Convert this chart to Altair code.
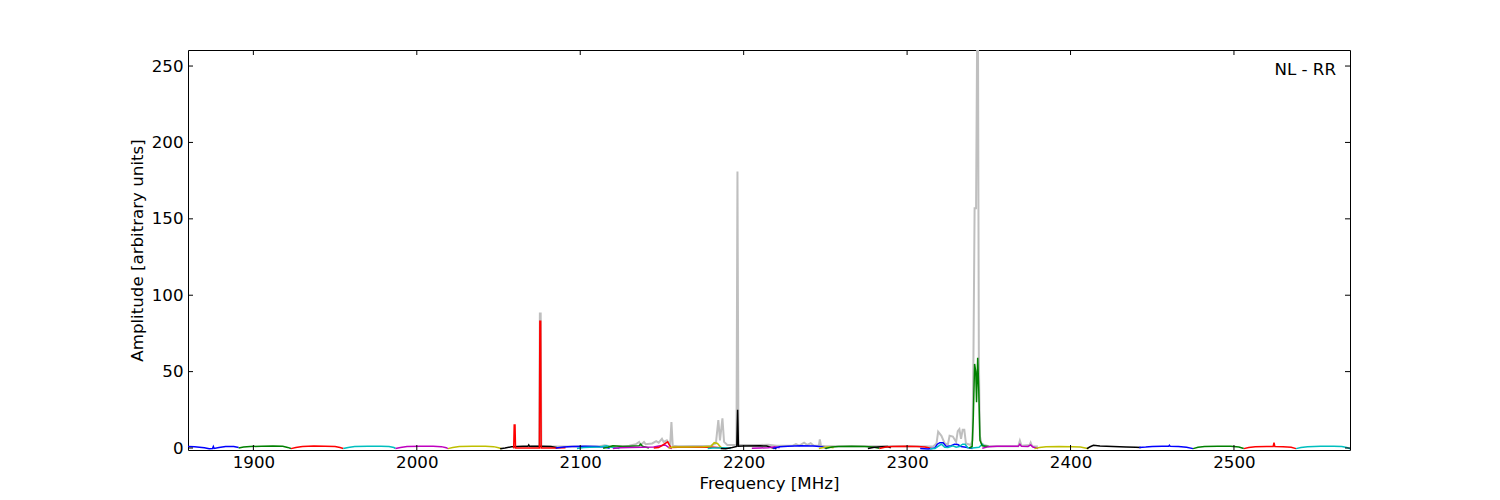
import altair as alt
import pandas as pd

# ---------------- data ----------------
# each sub-band: frequencies [MHz] and amplitudes [arbitrary units]
f_b1 = [1860, 1864, 1870, 1873, 1875, 1875.5, 1876, 1879, 1883, 1888, 1891]
a_b1 = [1.0, 0.8, 0.1, -0.4, -0.3, 1.0, -0.3, 0.3, 1.0, 1.0, 0.3]
f_g1 = [1891, 1894, 1898, 1905, 1912, 1918, 1921, 1923]
a_g1 = [0.0, 0.6, 1.0, 1.2, 1.3, 1.2, 0.4, -0.3]
f_r1 = [1923, 1926, 1930, 1937, 1944, 1950, 1953, 1955]
a_r1 = [-0.4, 0.3, 1.0, 1.3, 1.2, 1.0, 0.3, -0.3]
f_c1 = [1955, 1958, 1962, 1970, 1978, 1983, 1986, 1987]
a_c1 = [-0.3, 0.4, 1.0, 1.1, 1.1, 1.0, 0.3, -0.3]
f_m1 = [1987, 1990, 1994, 2002, 2010, 2015, 2018, 2019]
a_m1 = [-0.3, 0.4, 1.0, 1.2, 1.1, 0.9, 0.2, -0.4]
f_y1 = [2019, 2022, 2026, 2034, 2042, 2047, 2050, 2052]
a_y1 = [-0.4, 0.3, 1.0, 1.1, 1.1, 0.9, 0.2, -0.5]
f_k1 = [2051, 2054, 2058, 2065, 2068, 2068.5, 2069, 2075, 2082, 2086]
a_k1 = [-0.5, 0.0, 0.8, 1.1, 1.1, 2.0, 1.1, 1.2, 1.0, 0.2]
f_r2 = [2059, 2059.3, 2059.6, 2060.1, 2060.4, 2070, 2075, 2075.3, 2075.8, 2076.1, 2085, 2091]
a_r2 = [0.0, 0.2, 15.0, 15.0, 0.0, 0.0, 0.0, 83.0, 83.0, 0.0, 0.0, 0.1]
f_b2 = [2085, 2090, 2095, 2103, 2110, 2115, 2118]
a_b2 = [0.0, 0.7, 1.0, 1.1, 1.0, 0.6, -0.2]
f_c2 = [2098, 2102, 2106, 2112, 2116, 2120, 2124]
a_c2 = [-0.3, 0.3, 0.5, 0.6, 1.5, 0.4, -0.3]
f_g2 = [2114, 2117, 2120, 2126, 2130, 2136, 2137, 2138, 2142]
a_g2 = [-0.2, 0.5, 1.5, 1.0, 1.2, 1.5, 2.5, 1.2, 0.0]
f_m2 = [2120, 2124, 2130, 2138, 2145, 2149, 2152, 2154, 2156]
a_m2 = [-0.3, 0.2, 0.4, 0.5, 0.6, 1.5, 2.0, 0.5, -0.3]
f_r3 = [2145, 2148, 2150, 2152, 2153.5, 2154.5, 2155.5, 2160, 2170, 2180, 2186]
a_r3 = [0.0, 0.3, 1.5, 3.0, 4.0, 2.0, 0.3, 0.5, 0.5, 0.6, 0.2]
f_y2 = [2154, 2157, 2165, 2175, 2180, 2182, 2184, 2186, 2188]
a_y2 = [0.0, 0.6, 0.7, 0.8, 1.2, 3.5, 3.0, 0.5, -0.3]
f_c3 = [2178, 2181, 2185, 2189, 2192]
a_c3 = [-0.3, 0.0, 0.0, 0.2, -0.3]
f_k2 = [2186, 2189, 2193, 2195.8, 2196.3, 2196.8, 2200, 2210, 2214, 2217, 2220]
a_k2 = [-0.3, -0.5, 0.3, 1.0, 25.0, 1.2, 1.3, 1.4, 1.3, 0.3, -0.5]
f_m3 = [2205, 2210, 2215, 2219, 2222]
a_m3 = [-0.2, 0.0, 0.2, 0.8, 0.2]
f_b3 = [2218, 2222, 2227, 2235, 2243, 2248, 2251]
a_b3 = [-0.3, 0.8, 1.2, 1.5, 1.3, 0.8, -0.3]
f_y3 = [2246, 2249, 2252, 2255]
a_y3 = [-0.3, 0.3, 0.6, 0.2]
f_g3 = [2250, 2254, 2258, 2266, 2274, 2279, 2283]
a_g3 = [-0.3, 0.7, 1.0, 1.1, 1.0, 0.7, -0.2]
f_k3 = [2276, 2280, 2284, 2288, 2290]
a_k3 = [-0.3, 0.5, 0.8, 1.0, 0.2]
f_r4 = [2283, 2287, 2291, 2299, 2306, 2311, 2315]
a_r4 = [-0.3, 0.6, 1.0, 1.1, 1.0, 0.7, -0.3]
f_b4 = [2308, 2313, 2317, 2318.5, 2320, 2322, 2324, 2327, 2329, 2331, 2333, 2336, 2340]
a_b4 = [-0.3, -0.6, 0.0, 2.5, 3.5, 3.5, 1.0, 1.5, 2.5, 2.3, 1.0, 0.5, -0.3]
f_c4 = [2314, 2317, 2319, 2321, 2323, 2325, 2328, 2330, 2332, 2334, 2335.5, 2337, 2340, 2344, 2346, 2348]
a_c4 = [-0.5, -0.3, 1.0, 2.5, 0.5, 0.3, 1.5, 0.5, 1.0, 2.5, 2.5, 0.3, 0.0, 0.5, 2.5, 0.3]
f_g4 = [2338, 2339.8, 2340.5, 2341.3, 2342.0, 2342.5, 2343.2, 2343.8, 2344.6, 2346, 2350]
a_g4 = [0.0, 1.0, 20.0, 55.0, 50.0, 30.0, 59.0, 40.0, 5.0, 1.5, 1.0]
f_m4 = [2346, 2350, 2355, 2362, 2368, 2369, 2370, 2374, 2375.6, 2377, 2380]
a_m4 = [-0.2, 0.9, 1.1, 1.1, 1.1, 2.5, 1.1, 1.0, 2.0, 0.6, -0.3]
f_y4 = [2378, 2381, 2385, 2393, 2401, 2406, 2409, 2411]
a_y4 = [-0.4, 0.3, 0.9, 1.0, 0.9, 0.6, 0.0, -0.5]
f_k4 = [2410, 2412, 2414, 2418, 2426, 2434, 2440, 2443]
a_k4 = [-0.4, 0.8, 1.8, 1.3, 1.0, 0.7, 0.5, 0.3]
f_b5 = [2442, 2446, 2450, 2456, 2460, 2460.5, 2461, 2466, 2471, 2475]
a_b5 = [0.3, 0.6, 1.0, 1.1, 1.1, 1.8, 1.1, 1.0, 0.5, -0.4]
f_g5 = [2475, 2478, 2482, 2490, 2498, 2503, 2506]
a_g5 = [-0.4, 0.5, 1.0, 1.2, 1.1, 0.6, -0.3]
f_r5 = [2506, 2509, 2513, 2520, 2524, 2524.5, 2525, 2530, 2535, 2538]
a_r5 = [-0.4, 0.4, 0.9, 1.0, 1.0, 3.5, 1.0, 0.9, 0.5, -0.4]
f_c5 = [2538, 2541, 2545, 2553, 2561, 2566, 2569, 2571]
a_c5 = [-0.4, 0.3, 0.9, 1.1, 1.1, 1.0, 0.4, -0.6]

# grey envelope (maximum hold)
f_grey = [2070, 2074.9, 2075.3, 2075.8, 2076.2, 2080,
          2100, 2112, 2115, 2118, 2130, 2134, 2136, 2137, 2139, 2140, 2144, 2146.5, 2148,
          2150, 2151, 2153, 2155, 2155.8, 2156.6, 2160, 2180, 2183, 2184.5, 2185.5, 2187,
          2188, 2190, 2195.6, 2196.2, 2196.8, 2200, 2210, 2215, 2220, 2230, 2232, 2234,
          2237, 2239, 2241, 2243, 2246, 2246.6, 2247.3, 2250, 2300, 2316, 2318, 2319, 2321,
          2323, 2325, 2326, 2328, 2330, 2331, 2332, 2333, 2334, 2335, 2336, 2339, 2340,
          2340.6, 2341.3, 2342.2, 2342.8, 2343.4, 2343.9, 2344.5, 2345.5, 2347, 2350, 2368,
          2369, 2370, 2375, 2375.6, 2376.5, 2380]
a_grey = [1.0, 1.0, 88.0, 88.0, 1.0, 1.0,
          1.0, 1.2, 1.8, 1.2, 1.5, 2.5, 4.0, 2.0, 4.0, 2.5, 3.0, 4.5, 3.5,
          6.0, 4.0, 5.0, 2.0, 17.0, 1.5, 1.2, 1.5, 3.0, 18.3, 5.0, 19.4,
          4.0, 2.0, 2.0, 181.0, 2.0, 2.0, 2.0, 2.2, 1.5, 1.5, 2.5, 1.5,
          3.5, 2.0, 3.2, 1.5, 1.5, 5.7, 1.5, 1.2, 1.2, 1.0, 3.0, 10.7, 8.0,
          3.0, 2.5, 8.0, 7.5, 4.0, 11.0, 12.4, 6.0, 12.0, 12.0, 3.0, 2.0, 5.0,
          60.0, 157.0, 157.0, 260.0, 260.0, 60.0, 8.0, 3.0, 2.0, 1.2, 1.2,
          4.8, 1.5, 2.0, 3.5, 1.2, 1.0]

segments = [
    ("b1", "b", f_b1, a_b1), ("g1", "g", f_g1, a_g1), ("r1", "r", f_r1, a_r1),
    ("c1", "c", f_c1, a_c1), ("m1", "m", f_m1, a_m1), ("y1", "y", f_y1, a_y1),
    ("k1", "k", f_k1, a_k1), ("r2", "r", f_r2, a_r2), ("b2", "b", f_b2, a_b2),
    ("c2", "c", f_c2, a_c2), ("g2", "g", f_g2, a_g2), ("m2", "m", f_m2, a_m2),
    ("r3", "r", f_r3, a_r3), ("y2", "y", f_y2, a_y2), ("c3", "c", f_c3, a_c3),
    ("k2", "k", f_k2, a_k2), ("m3", "m", f_m3, a_m3), ("b3", "b", f_b3, a_b3),
    ("y3", "y", f_y3, a_y3), ("g3", "g", f_g3, a_g3), ("k3", "k", f_k3, a_k3),
    ("r4", "r", f_r4, a_r4), ("b4", "b", f_b4, a_b4), ("c4", "c", f_c4, a_c4),
    ("g4", "g", f_g4, a_g4), ("m4", "m", f_m4, a_m4), ("y4", "y", f_y4, a_y4),
    ("k4", "k", f_k4, a_k4), ("b5", "b", f_b5, a_b5), ("g5", "g", f_g5, a_g5),
    ("r5", "r", f_r5, a_r5), ("c5", "c", f_c5, a_c5),
]

x_ticks = [1900, 2000, 2100, 2200, 2300, 2400, 2500]
y_ticks = [0, 50, 100, 150, 200, 250]
label_text = ["NL - RR"]

# ---------------- styling ----------------
color_codes = ["b", "g", "r", "c", "m", "y", "k"]
color_hex = ["#0000ff", "#008000", "#ff0000", "#00bfbf", "#bf00bf", "#bfbf00", "#000000"]

rows = []
for sid, (name, code, fs, amps) in enumerate(segments):
    for i, (f, a) in enumerate(zip(fs, amps)):
        rows.append({"seg": sid, "code": code, "i": i, "f": f, "a": a})
df = pd.DataFrame(rows)
df_grey = pd.DataFrame({"f": f_grey, "a": a_grey, "i": list(range(len(f_grey)))})

W, H = 1162, 400
xs = alt.Scale(domain=[1860, 2571], nice=False, zero=False)
ys = alt.Scale(domain=[-1.3, 260.5], nice=False, zero=False)
FONT = "DejaVu Sans"
FS = 16.67

x_axis = alt.Axis(values=x_ticks, format="d", ticks=False, tickSize=0, domain=False, grid=False,
                  labelFontSize=FS, labelFont=FONT, labelColor="black", labelPadding=4,
                  title="Frequency [MHz]", titleFont=FONT, titleFontSize=FS,
                  titleFontWeight="normal", titleColor="black", titlePadding=5)
y_axis = alt.Axis(values=y_ticks, format="d", ticks=False, tickSize=0, domain=False, grid=False,
                  labelFontSize=FS, labelFont=FONT, labelColor="black", labelPadding=5,
                  title="Amplitude [arbitrary units]", titleFont=FONT, titleFontSize=FS,
                  titleFontWeight="normal", titleColor="black", titlePadding=5)

grey = alt.Chart(df_grey).mark_line(color="#bfbfbf", strokeWidth=2, clip=True).encode(
    x=alt.X("f:Q", scale=xs, axis=x_axis),
    y=alt.Y("a:Q", scale=ys, axis=y_axis),
    order="i:Q",
)

lines = alt.Chart(df).mark_line(strokeWidth=1.5, clip=True).encode(
    x=alt.X("f:Q", scale=xs),
    y=alt.Y("a:Q", scale=ys),
    color=alt.Color("code:N", scale=alt.Scale(domain=color_codes, range=color_hex), legend=None),
    detail="seg:N",
    order="i:Q",
)

xt = pd.DataFrame({"t": x_ticks})
yt = pd.DataFrame({"t": y_ticks})
tick_style = dict(color="black", strokeWidth=1)
tb = alt.Chart(xt).mark_rule(**tick_style).encode(x=alt.X("t:Q", scale=xs), y=alt.value(H - 5), y2=alt.value(H))
tt = alt.Chart(xt).mark_rule(**tick_style).encode(x=alt.X("t:Q", scale=xs), y=alt.value(0), y2=alt.value(5))
tl = alt.Chart(yt).mark_rule(**tick_style).encode(y=alt.Y("t:Q", scale=ys), x=alt.value(0), x2=alt.value(5))
tr = alt.Chart(yt).mark_rule(**tick_style).encode(y=alt.Y("t:Q", scale=ys), x=alt.value(W - 5), x2=alt.value(W))

label = alt.Chart(pd.DataFrame({"t": label_text})).mark_text(
    align="right", baseline="middle", fontSize=FS, font=FONT, color="black"
).encode(text="t:N", x=alt.value(W - 14), y=alt.value(20))

chart = alt.layer(grey, lines, tb, tt, tl, tr, label).properties(
    width=W, height=H, autosize="none", background="white",
    padding={"left": 180, "top": 42, "right": 100, "bottom": 42},
).configure_view(stroke="black", strokeWidth=1)

chart.save("out.html", embed_options={"renderer": "svg", "actions": False})
